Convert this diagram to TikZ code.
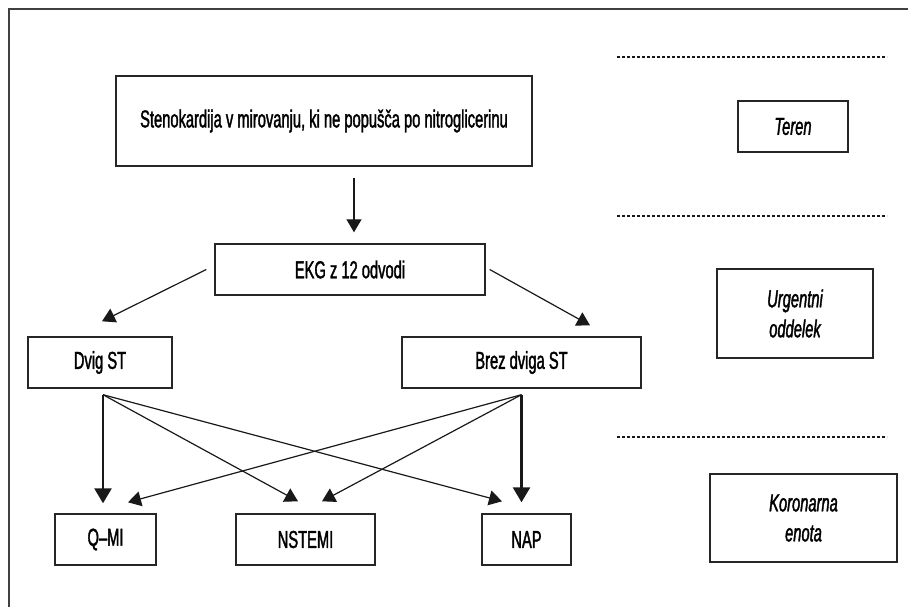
\documentclass[tikz,border=0pt]{standalone}
\usepackage{fontspec}
\setmainfont{Liberation Sans}[FakeStretch=0.6, FakeBold=1.5]
\usetikzlibrary{arrows.meta,calc}

\begin{document}
\begin{tikzpicture}[x=1pt,y=-1pt,
  box/.style={draw=black!85, line width=1.4pt, minimum height=51pt, inner sep=0pt,
              font=\fontsize{24.5}{30}\selectfont, align=center},
  zone/.style={box, font=\fontsize{24.5}{30}\selectfont\itshape},
  conn/.style={draw=black!90, line width=1.2pt, -{Triangle[length=13pt,width=15pt]}},
  heavy/.style={draw=black!90, line width=2.6pt, -{Triangle[length=15pt,width=17pt]}},
  sep/.style={draw=black!90, line width=2.2pt, dash pattern=on 3pt off 2pt},
]
\useasboundingbox (0,0) rectangle (908,607);

% outer frame (top and left edges)
\draw[line width=1.5pt, draw=black!75] (9,607) -- (9,9) -- (908,9);

% flow boxes
\node[box, minimum width=416pt, minimum height=90pt] (sym) at (324,121)
  {Stenokardija v mirovanju, ki ne popušča po nitroglicerinu};
\node[box, minimum width=270pt] (ekg) at (350,269.5) {EKG z 12 odvodi};
\node[box, minimum width=144pt] (dvig) at (100,362.5) {Dvig ST};
\node[box, minimum width=239pt] (brez) at (521.5,362.5) {Brez dviga ST};
\node[box, minimum width=101pt] (qmi) at (105.5,539.5) {Q--MI};
\node[box, minimum width=139pt] (nstemi) at (305.5,539.5) {NSTEMI};
\node[box, minimum width=89pt] (nap) at (526.5,539.5) {NAP};

% care-level boxes
\node[zone, minimum width=110pt] (teren) at (793,126.5) {Teren};
\node[zone, minimum width=156pt, minimum height=89pt] (urg) at (795,313.5) {Urgentni\\oddelek};
\node[zone, minimum width=187pt, minimum height=88pt] (kor) at (803.5,518) {Koronarna\\enota};

% dotted separators between levels
\coordinate (s1a) at (617,57);  \coordinate (s1b) at (887,57);
\coordinate (s2a) at (617,216); \coordinate (s2b) at (887,216);
\coordinate (s3a) at (617,437); \coordinate (s3b) at (887,437);
\draw[sep] (s1a) -- (s1b);
\draw[sep] (s2a) -- (s2b);
\draw[sep] (s3a) -- (s3b);

% connectors
\draw[conn] ($(sym.south)+(30,11)$) -- ($(ekg.north)+(4,-11)$);
\draw[conn] ($(ekg.west)+(-8,0)$) -- ($(dvig.north)+(2,-15)$);
\draw[conn] ($(ekg.east)+(4,0)$) -- ($(brez.north)+(68.5,-11)$);

\coordinate (dv) at ($(dvig.south)+(3,6)$);
\coordinate (bz) at ($(brez.south)+(0,6)$);

\draw[heavy] (dv) -- ($(qmi.north)+(-2.5,-10)$);
\draw[conn] (dv) -- ($(nstemi.north)+(-7.5,-12)$);
\draw[conn] (dv) -- ($(nap.north)+(-24.5,-12)$);
\draw[conn] (bz) -- ($(qmi.north)+(22.5,-11)$);
\draw[conn] (bz) -- ($(nstemi.north)+(16.5,-12)$);
\draw[heavy] (bz) -- ($(nap.north)+(-5,-11)$);
\end{tikzpicture}
\end{document}
